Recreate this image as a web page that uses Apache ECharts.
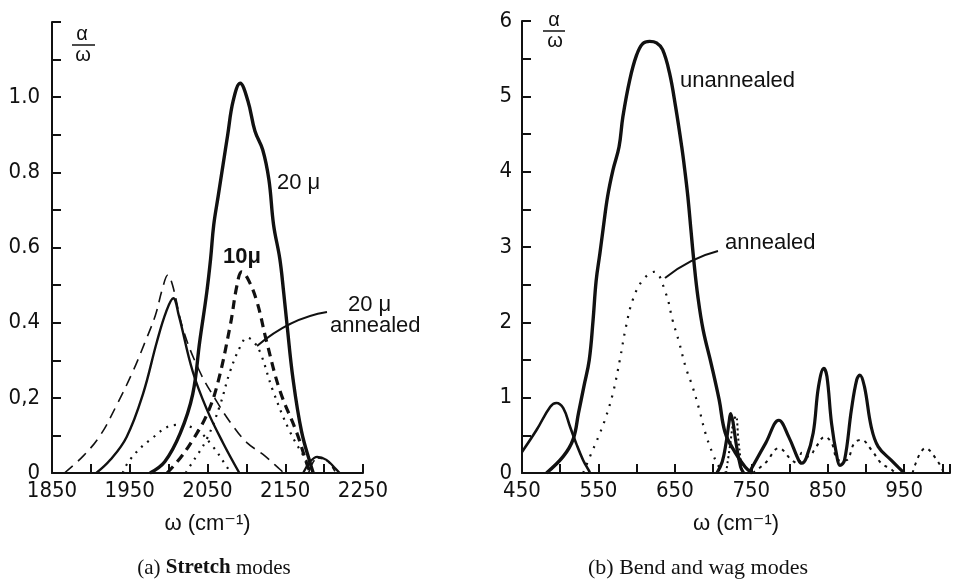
<!DOCTYPE html>
<html>
<head>
<meta charset="utf-8">
<script src="https://cdn.jsdelivr.net/npm/echarts@6/dist/echarts.min.js"></script>
<style>
  html, body { margin: 0; padding: 0; background: #fff; }
  #chart { width: 953px; height: 581px; }
</style>
</head>
<body>
<div id="chart"></div>
<script>
// (a) stretch modes, [omega, alpha/omega]
const stretchThinDash = [[1866,0],[1890,0.045],[1912,0.1],[1933,0.18],[1954,0.27],[1970,0.35],[1983,0.42],[1992,0.49],[1999,0.527],[2005,0.5],[2019,0.38],[2040,0.27],[2062,0.19],[2081,0.13],[2101,0.08],[2121,0.05],[2143,0.01],[2148,0]];
const stretchThinSolid = [[1907,0],[1925,0.035],[1946,0.096],[1967,0.21],[1985,0.35],[1997,0.43],[2006,0.465],[2013,0.42],[2031,0.27],[2049,0.17],[2070,0.08],[2091,0]];
const stretch20 = [[1976,0],[1995,0.03],[2015,0.106],[2031,0.21],[2040,0.35],[2049,0.48],[2054,0.57],[2058,0.66],[2064,0.74],[2070,0.82],[2076,0.9],[2083,0.99],[2092,1.037],[2102,0.99],[2111,0.91],[2121,0.86],[2129,0.78],[2135,0.66],[2143,0.57],[2148,0.48],[2152,0.4],[2160,0.25],[2171,0.11],[2183,0.02],[2186,0]];
const stretch10 = [[1998,0],[2015,0.04],[2031,0.088],[2048,0.15],[2062,0.23],[2079,0.39],[2088,0.5],[2094,0.535],[2101,0.52],[2113,0.46],[2126,0.35],[2143,0.22],[2165,0.106],[2179,0.017],[2183,0]];
const stretch20Annealed = [[2022,0],[2028,0.02],[2049,0.09],[2066,0.18],[2079,0.27],[2093,0.34],[2101,0.36],[2109,0.35],[2118,0.32],[2134,0.22],[2156,0.11],[2178,0.03],[2186,0]];
const stretchAnnealedLow = [[1941,0],[1950,0.035],[1976,0.088],[2010,0.128],[2036,0.115],[2057,0.07],[2075,0.016],[2080,0]];
const stretchHump = [[2173,0],[2182,0.03],[2191,0.043],[2203,0.035],[2213,0.015],[2220,0]];
const stretchHumpDash = [[2180,0],[2192,0.04],[2205,0.03],[2215,0]];

// (b) bend and wag modes
const bendLeft = [[450,0.28],[469,0.57],[487,0.88],[495,0.93],[504,0.86],[513,0.61],[521,0.39],[530,0.17],[537,0.04],[539,0]];
const bendUnannealed = [[482,0],[504,0.22],[517,0.45],[524,0.8],[531,1.15],[538,1.5],[543,2.03],[547,2.55],[552,2.92],[556,3.23],[562,3.67],[569,4.02],[577,4.33],[582,4.73],[591,5.22],[600,5.55],[608,5.7],[617,5.73],[626,5.71],[634,5.62],[643,5.31],[651,4.86],[659,4.33],[663,4.02],[667,3.67],[671,3.23],[675,2.8],[680,2.35],[687,1.9],[698,1.43],[708,0.97],[716,0.53],[729,0.27],[742,0.08],[751,0]];
const bendAnnealed = [[530,0],[539,0.22],[552,0.53],[560,0.75],[569,1.06],[578,1.5],[586,1.94],[595,2.3],[608,2.56],[623,2.67],[638,2.39],[647,2.03],[656,1.72],[664,1.41],[673,1.15],[682,0.84],[690,0.53],[699,0.27],[708,0.08],[716,0]];
const spikeSolid = [[705,0],[712,0.15],[717,0.4],[721,0.68],[723,0.79],[726,0.68],[730,0.4],[736,0.08],[740,0]];
const spikeDotted = [[717,0],[722,0.35],[727,0.7],[730,0.75],[733,0.45],[737,0.1],[739,0]];
const wagSolid = [[747,0],[769,0.4],[786,0.7],[799,0.48],[812,0.17],[816,0.13],[822,0.2],[831,0.53],[838,1.15],[845,1.39],[849,1.28],[855,0.66],[862,0.22],[866,0.1],[872,0.17],[881,0.84],[888,1.24],[892,1.3],[898,1.15],[907,0.61],[916,0.35],[933,0.17],[948,0.02],[950,0]];
const wagDotted = [[752,0],[769,0.14],[786,0.33],[803,0.17],[812,0.12],[816,0.27],[825,0.22],[835,0.35],[846,0.48],[855,0.4],[864,0.17],[874,0.17],[885,0.4],[894,0.44],[907,0.31],[920,0.13],[933,0.05],[938,0]];
const tailDotted = [[961,0],[978,0.33],[993,0.17],[1002,0]];

const ink = '#111';
const numFont = '"Liberation Sans Narrow", "DejaVu Sans Condensed", "Liberation Sans", sans-serif';
const txtFont = '"Liberation Sans", "DejaVu Sans", sans-serif';
const serif = '"Liberation Serif", "DejaVu Serif", serif';

function curve(data, grid, width, type) {
    return {
        type: 'line',
        data: data,
        xAxisIndex: grid,
        yAxisIndex: grid,
        symbol: 'none',
        smooth: 0.4,
        silent: true,
        lineStyle: { color: ink, width: width, type: type || 'solid' }
    };
}

const axisBase = {
    axisLine: { lineStyle: { color: ink, width: 2 } },
    axisTick: { inside: true, length: 9, lineStyle: { color: ink, width: 2 } },
    splitLine: { show: false },
    axisLabel: { color: ink, fontFamily: numFont, fontSize: 22 }
};

const chart = echarts.init(document.getElementById('chart'));
chart.setOption({
    animation: false,
    backgroundColor: '#fff',
    grid: [
        { left: 52, top: 22, width: 311, height: 451 },
        { left: 522, top: 21, width: 431, height: 452 }
    ],
    xAxis: [
        Object.assign({}, axisBase, {
            type: 'value', gridIndex: 0, min: 1850, max: 2250, interval: 50,
            axisLabel: Object.assign({}, axisBase.axisLabel, { margin: 7,
                formatter: v => ((v - 1850) % 100 === 0 ? String(v) : '') }),
            name: 'ω (cm⁻¹)', nameLocation: 'middle', nameGap: 40,
            nameTextStyle: { color: ink, fontFamily: txtFont, fontSize: 22 }
        }),
        Object.assign({}, axisBase, {
            type: 'value', gridIndex: 1, min: 450, max: 1010, interval: 50,
            axisLabel: Object.assign({}, axisBase.axisLabel, { margin: 7,
                formatter: v => ((v - 450) % 100 === 0 ? String(v) : '') }),
            name: 'ω (cm⁻¹)', nameLocation: 'middle', nameGap: 40,
            nameTextStyle: { color: ink, fontFamily: txtFont, fontSize: 22 }
        })
    ],
    yAxis: [
        Object.assign({}, axisBase, {
            type: 'value', gridIndex: 0, min: 0, max: 1.2, interval: 0.1,
            axisLabel: Object.assign({}, axisBase.axisLabel, { margin: 12,
                formatter: v => {
                    const k = Math.round(v * 10);
                    if (k === 0) return '0';
                    if (k % 2 || k > 10) return '';
                    return k === 2 ? '0,2' : (k / 10).toFixed(1);
                } })
        }),
        Object.assign({}, axisBase, {
            type: 'value', gridIndex: 1, min: 0, max: 6, interval: 0.5,
            axisLabel: Object.assign({}, axisBase.axisLabel, { margin: 10,
                formatter: v => (v % 1 === 0 ? String(v) : '') })
        })
    ],
    series: [
        curve(stretchThinDash, 0, 1.6, [11, 7]),
        curve(stretchThinSolid, 0, 2.4),
        curve(stretch20, 0, 3.4),
        curve(stretch10, 0, 3.2, [9, 6]),
        curve(stretch20Annealed, 0, 2.2, [2, 6]),
        curve(stretchAnnealedLow, 0, 2.2, [2, 6]),
        curve(stretchHump, 0, 2.2),
        curve(stretchHumpDash, 0, 1.6, [5, 4]),
        curve(bendLeft, 1, 2.6),
        curve(bendUnannealed, 1, 3.4),
        curve(bendAnnealed, 1, 2.2, [2, 7]),
        curve(spikeSolid, 1, 3.2),
        curve(spikeDotted, 1, 2, [2, 3]),
        curve(wagSolid, 1, 3.2),
        curve(wagDotted, 1, 2, [3, 5]),
        curve(tailDotted, 1, 2, [3, 5])
    ],
    graphic: [
        // alpha / omega labels
        { type: 'text', x: 82, y: 34, style: { text: 'α', font: '20px ' + txtFont, fill: ink, align: 'center', verticalAlign: 'middle' } },
        { type: 'line', shape: { x1: 72, y1: 45, x2: 95, y2: 45 }, style: { stroke: ink, lineWidth: 1.5 } },
        { type: 'text', x: 83, y: 55, style: { text: 'ω', font: '20px ' + txtFont, fill: ink, align: 'center', verticalAlign: 'middle' } },
        { type: 'text', x: 554, y: 20, style: { text: 'α', font: '20px ' + txtFont, fill: ink, align: 'center', verticalAlign: 'middle' } },
        { type: 'line', shape: { x1: 543, y1: 31, x2: 565, y2: 31 }, style: { stroke: ink, lineWidth: 1.5 } },
        { type: 'text', x: 555, y: 41, style: { text: 'ω', font: '20px ' + txtFont, fill: ink, align: 'center', verticalAlign: 'middle' } },
        // curve labels
        { type: 'text', x: 277, y: 183, style: { text: '20 μ', font: '22px ' + txtFont, fill: ink, verticalAlign: 'middle' } },
        { type: 'text', x: 223, y: 257, style: { text: '10μ', font: 'bold 22px ' + txtFont, fill: ink, verticalAlign: 'middle' } },
        { type: 'text', x: 348, y: 305, style: { text: '20 μ', font: '22px ' + txtFont, fill: ink, verticalAlign: 'middle' } },
        { type: 'text', x: 330, y: 326, style: { text: 'annealed', font: '22px ' + txtFont, fill: ink, verticalAlign: 'middle' } },
        { type: 'bezierCurve', shape: { x1: 327, y1: 312, cpx1: 290, cpy1: 318, x2: 257, y2: 346 }, style: { stroke: ink, lineWidth: 2, fill: null } },
        { type: 'text', x: 680, y: 81, style: { text: 'unannealed', font: '22px ' + txtFont, fill: ink, verticalAlign: 'middle' } },
        { type: 'text', x: 725, y: 243, style: { text: 'annealed', font: '22px ' + txtFont, fill: ink, verticalAlign: 'middle' } },
        { type: 'bezierCurve', shape: { x1: 718, y1: 251, cpx1: 690, cpy1: 258, x2: 665, y2: 278 }, style: { stroke: ink, lineWidth: 2, fill: null } },
        // captions
        { type: 'text', x: 214, y: 568, style: {
            text: '(a) {b|Stretch} modes', font: '21px ' + serif, fill: ink, align: 'center', verticalAlign: 'middle',
            rich: { b: { fontFamily: serif, fontSize: 21, fontWeight: 'bold', fill: ink } } } },
        { type: 'text', x: 698, y: 568, style: {
            text: '(b) Bend and wag modes', font: '22px ' + serif, fill: ink, align: 'center', verticalAlign: 'middle' } }
    ]
});
</script>
</body>
</html>
